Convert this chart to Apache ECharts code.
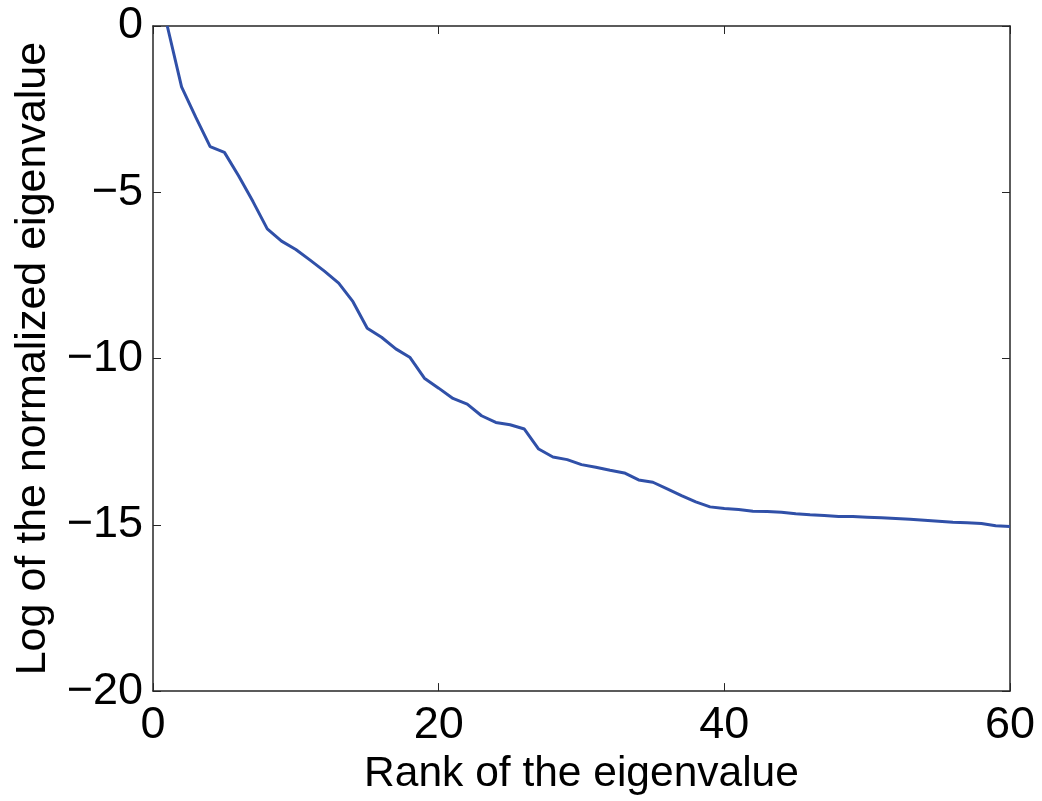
<!DOCTYPE html>
<html>
<head>
<meta charset="utf-8">
<script src="https://cdn.jsdelivr.net/npm/echarts@6/dist/echarts.min.js"></script>
<style>
html,body{margin:0;padding:0;background:#fff;}
#chart{width:1042px;height:801px;}
</style>
</head>
<body>
<div id="chart"></div>
<script>
const ranks = Array.from({length: 60}, (_, i) => i + 1);
const logEigen = [
  0.00, -1.83, -2.75, -3.63, -3.80, -4.51, -5.28, -6.10, -6.47, -6.72,
  -7.04, -7.37, -7.73, -8.29, -9.09, -9.36, -9.71, -9.97, -10.59, -10.89,
  -11.20, -11.37, -11.72, -11.92, -11.99, -12.12, -12.72, -12.96, -13.04, -13.19,
  -13.27, -13.36, -13.44, -13.65, -13.72, -13.92, -14.12, -14.31, -14.46, -14.51,
  -14.54, -14.59, -14.60, -14.62, -14.67, -14.70, -14.72, -14.75, -14.75, -14.77,
  -14.79, -14.81, -14.83, -14.86, -14.89, -14.92, -14.94, -14.96, -15.03, -15.05
];
const xTicks = [0, 20, 40, 60];
const yTicks = [-20, -15, -10, -5, 0];
const xTitle = 'Rank of the eigenvalue';
const yTitle = 'Log of the normalized eigenvalue';

const axisColor = '#262626';
const fontFam = '"Liberation Sans", Arial, Helvetica, sans-serif';
const fmt = v => String(v).replace('-', '\u2212');

const chart = echarts.init(document.getElementById('chart'), null, {renderer: 'canvas'});
const baseAxis = {
  axisLine: {show: true, onZero: false, lineStyle: {color: axisColor, width: 1.5}},
  axisTick: {show: true, inside: true, length: 8, lineStyle: {color: axisColor, width: 1}},
  splitLine: {show: false},
};
chart.setOption({
  animation: false,
  backgroundColor: '#fff',
  grid: {left: 153, right: 32, top: 26, bottom: 109, containLabel: false},
  xAxis: [
    Object.assign({}, baseAxis, {
      type: 'value', min: xTicks[0], max: xTicks[xTicks.length - 1], interval: xTicks[1] - xTicks[0],
      position: 'bottom',
      axisLabel: {color: '#000', fontSize: 45, fontFamily: fontFam, margin: 12, formatter: fmt},
      name: xTitle, nameLocation: 'middle', nameGap: 55,
      nameTextStyle: {color: '#000', fontSize: 42.5, fontFamily: fontFam}
    }),
    Object.assign({}, baseAxis, {
      type: 'value', min: xTicks[0], max: xTicks[xTicks.length - 1], interval: xTicks[1] - xTicks[0],
      position: 'top', axisLabel: {show: false}
    })
  ],
  yAxis: [
    Object.assign({}, baseAxis, {
      type: 'value', min: yTicks[0], max: yTicks[yTicks.length - 1], interval: yTicks[1] - yTicks[0],
      position: 'left',
      axisLabel: {color: '#000', fontSize: 45, fontFamily: fontFam, margin: 10, formatter: fmt},
      name: yTitle, nameLocation: 'middle', nameGap: 98,
      nameTextStyle: {color: '#000', fontSize: 43, fontFamily: fontFam}
    }),
    Object.assign({}, baseAxis, {
      type: 'value', min: yTicks[0], max: yTicks[yTicks.length - 1], interval: yTicks[1] - yTicks[0],
      position: 'right', axisLabel: {show: false}
    })
  ],
  series: [{
    type: 'line',
    xAxisIndex: 0, yAxisIndex: 0,
    data: ranks.map((r, i) => [r, logEigen[i]]),
    showSymbol: false,
    lineStyle: {color: '#3050a8', width: 3},
    clip: true
  }]
});
</script>
</body>
</html>
